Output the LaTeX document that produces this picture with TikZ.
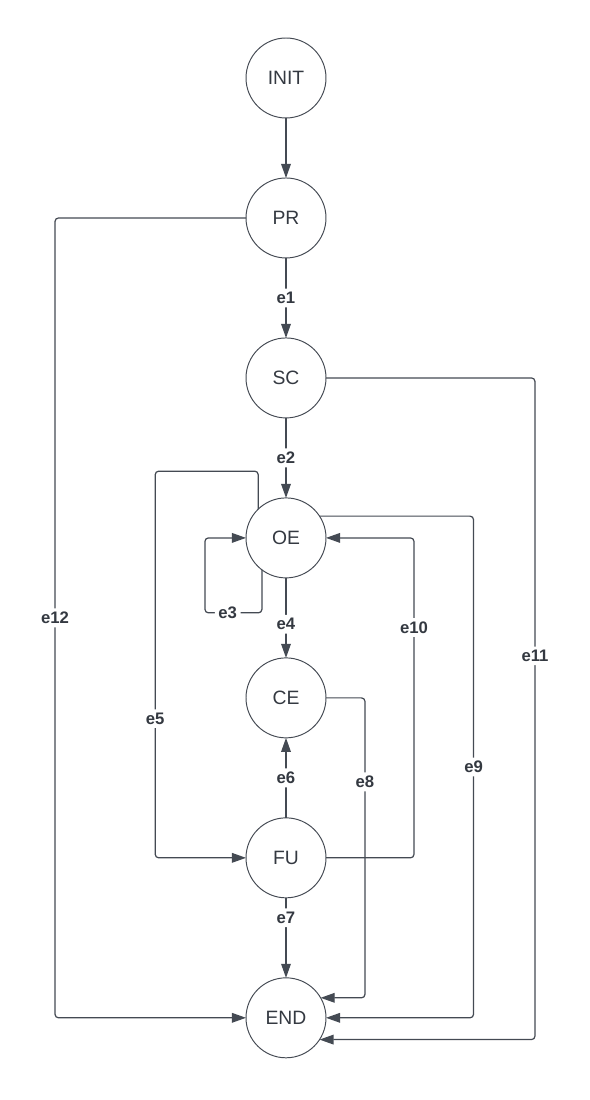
\documentclass[tikz,border=0pt]{standalone}
\usepackage{fontspec}
\setmainfont{Liberation Sans}
\usetikzlibrary{arrows.meta,positioning}
\definecolor{edgegray}{HTML}{444A53}
\definecolor{inkgray}{HTML}{343941}

\begin{document}
\begin{tikzpicture}[x=0.02cm,y=0.02cm,node distance=1.6cm,>={Triangle[length=8pt,width=5.5pt]},
        state/.style={draw=edgegray,line width=0.55pt,circle,minimum size=1.6cm,inner sep=0pt,outer sep=0pt,text=inkgray,font=\fontsize{11}{13}\selectfont},
        lbl/.style={fill=white,inner sep=2pt,text=inkgray,font=\fontsize{9.5}{11}\selectfont\bfseries},
        flow/.style={draw=edgegray,line width=0.7pt,rounded corners=2pt}]
        \useasboundingbox (0,0) rectangle (589,1100);
        \node[state] (init) at (286,1022) {INIT};
        \node[state,below=1.2cm of init] (pr) {PR};
        \node[state,below=of pr] (sc) {SC};
        \node[state,below=of sc] (oe) {OE};
        \node[state,below=of oe] (ce) {CE};
        \node[state,below=of ce] (fu) {FU};
        \node[state,below=of fu] (end) {END};
        % main line
        \draw[flow,->] (init) -- (pr);
        \draw[flow,->] (pr) -- node[lbl]{e1} (sc);
        \draw[flow,->] (sc) -- node[lbl]{e2} (oe);
        \draw[flow,->] (oe) -- node[lbl,pos=0.58]{e4} (ce);
        \draw[flow,->] (fu) -- node[lbl]{e6} (ce);
        \draw[flow,->] (fu) -- node[lbl,pos=0.25]{e7} (end);
        % loops on the left
        \draw[flow,->] (oe.233) -- ++(0,-43) -- node[lbl,pos=0.6]{e3} ++(-57,0) |- (oe.west);
        \draw[flow,->] (oe.134) -- ++(0,38) -- ++(-103,0) |- node[lbl,pos=0.32]{e5} (fu.west);
        \draw[flow,->] (pr.west) -- ++(-191,0) |- node[lbl,pos=0.25]{e12} (end.west);
        % returns on the right
        \draw[flow,->] (fu.east) -- ++(88,0) |- node[lbl,pos=0.36]{e10} (oe.east);
        \draw[flow,->] (ce.east) -- ++(39,0) |- node[lbl,pos=0.14]{e8} (end.30);
        \draw[flow,->] (oe.33) -- ++(154,0) |- node[lbl,pos=0.25]{e9} (end.east);
        \draw[flow,->] (sc.east) -- ++(209,0) |- node[lbl,pos=0.21]{e11} (end.-33);
      \end{tikzpicture}
\end{document}
